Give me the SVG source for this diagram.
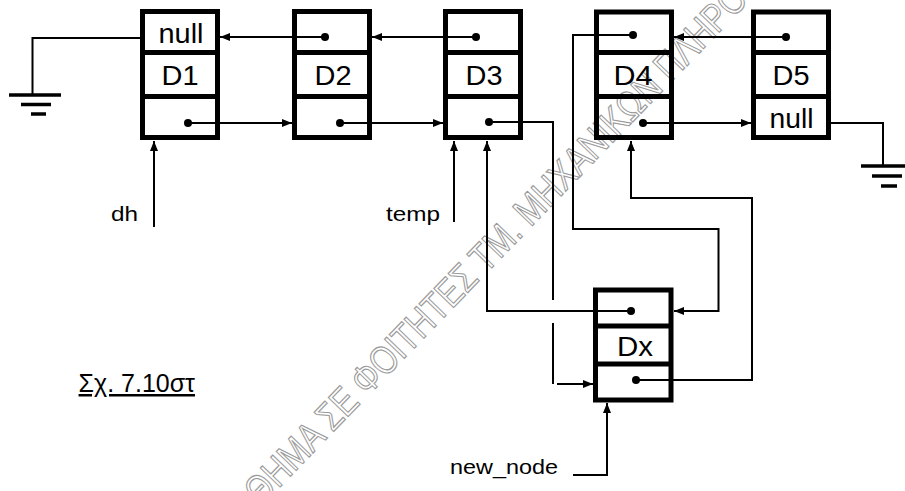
<svg xmlns="http://www.w3.org/2000/svg" width="905" height="491" viewBox="0 0 905 491">
<style>
.box{fill:none;stroke:#000;stroke-width:5}
.dv{stroke:#000;stroke-width:5}
.lbl{font-family:"Liberation Sans",Arial,sans-serif;font-size:27px;text-anchor:middle;fill:#000}
.sm{font-family:"Liberation Sans",Arial,sans-serif;font-size:21px;fill:#000}
.ln{fill:none;stroke:#000;stroke-width:2}
.gnd{stroke:#000;stroke-width:3.5}
.dot{fill:#000}
.wm{font-family:"Liberation Sans",Arial,sans-serif;font-size:40px;fill:none;stroke:#9a9a9a;stroke-width:1.2}
</style>
<defs>
<marker id="ah" viewBox="0 0 10 8" refX="10" refY="4" markerWidth="10" markerHeight="8" orient="auto" markerUnits="userSpaceOnUse"><path d="M0,0 L10,4 L0,8 z" fill="#000"/></marker>
</defs>
<rect width="905" height="491" fill="#fff"/>
<g id="watermark" transform="translate(367,377) rotate(-46)">
<text class="wm" transform="scale(0.8,1)" x="-209" y="14">ΘΗΜΑ ΣΕ ΦΟΙΤΗΤΕΣ ΤΜ. ΜΗΧΑΝΙΚΩΝ ΠΛΗΡΟ</text>
</g>
<g id="connectors">
<path class="ln" d="M142,38 H32.5 V95"/>
<line class="gnd" x1="9" y1="95" x2="61" y2="95"/>
<line class="gnd" x1="21" y1="104.5" x2="51" y2="104.5"/>
<line class="gnd" x1="31" y1="114" x2="46" y2="114"/>
<path class="ln" d="M829,123 H883 V166"/>
<line class="gnd" x1="861" y1="166" x2="905" y2="166"/>
<line class="gnd" x1="872" y1="176" x2="902" y2="176"/>
<line class="gnd" x1="881" y1="186" x2="897" y2="186"/>
<circle class="dot" cx="325" cy="37" r="4"/>
<line class="ln" x1="325" y1="37" x2="220" y2="37" marker-end="url(#ah)"/>
<circle class="dot" cx="476" cy="37" r="4"/>
<line class="ln" x1="476" y1="37" x2="372" y2="37" marker-end="url(#ah)"/>
<circle class="dot" cx="786" cy="37" r="4"/>
<line class="ln" x1="786" y1="37" x2="674" y2="37" marker-end="url(#ah)"/>
<circle class="dot" cx="188" cy="123" r="4"/>
<line class="ln" x1="188" y1="123" x2="292" y2="123" marker-end="url(#ah)"/>
<circle class="dot" cx="340" cy="123" r="4"/>
<line class="ln" x1="340" y1="123" x2="443" y2="123" marker-end="url(#ah)"/>
<circle class="dot" cx="643" cy="123" r="4"/>
<line class="ln" x1="643" y1="123" x2="751" y2="123" marker-end="url(#ah)"/>
<circle class="dot" cx="489" cy="122" r="4"/>
<path class="ln" d="M489,122 H553 V300"/>
<path class="ln" d="M553,323 V384"/>
<line class="ln" x1="557" y1="384" x2="593" y2="384" marker-end="url(#ah)"/>
<circle class="dot" cx="631" cy="311" r="4"/>
<path class="ln" d="M631,311 H487 V141" marker-end="url(#ah)"/>
<circle class="dot" cx="633" cy="35" r="4"/>
<path class="ln" d="M633,35 H573 V229 H718.5 V311 H674" marker-end="url(#ah)"/>
<circle class="dot" cx="636" cy="380" r="4"/>
<path class="ln" d="M636,380 H752 V198 H631 V141" marker-end="url(#ah)"/>
<line class="ln" x1="154" y1="227" x2="154" y2="141" marker-end="url(#ah)"/>
<line class="ln" x1="454" y1="222" x2="454" y2="141" marker-end="url(#ah)"/>
<path class="ln" d="M573,475 H607 V403" marker-end="url(#ah)"/>
</g>
<g id="D1">
<rect class="box" x="142.5" y="11.5" width="75" height="126"/>
<line class="dv" x1="142.5" y1="52.5" x2="217.5" y2="52.5"/>
<line class="dv" x1="142.5" y1="96.5" x2="217.5" y2="96.5"/>
<text class="lbl" x="181" y="43" textLength="45" lengthAdjust="spacingAndGlyphs">null</text>
<text class="lbl" x="180" y="85" textLength="37" lengthAdjust="spacingAndGlyphs">D1</text>
</g>
<g id="D2">
<rect class="box" x="294.5" y="11.5" width="75" height="126"/>
<line class="dv" x1="294.5" y1="52.5" x2="369.5" y2="52.5"/>
<line class="dv" x1="294.5" y1="96.5" x2="369.5" y2="96.5"/>
<text class="lbl" x="333" y="85" textLength="37" lengthAdjust="spacingAndGlyphs">D2</text>
</g>
<g id="D3">
<rect class="box" x="445.5" y="11.5" width="75" height="126"/>
<line class="dv" x1="445.5" y1="52.5" x2="520.5" y2="52.5"/>
<line class="dv" x1="445.5" y1="96.5" x2="520.5" y2="96.5"/>
<text class="lbl" x="484" y="85" textLength="37" lengthAdjust="spacingAndGlyphs">D3</text>
</g>
<g id="D4">
<rect class="box" x="596.5" y="12" width="75" height="125.5"/>
<line class="dv" x1="596.5" y1="52.5" x2="671.5" y2="52.5"/>
<line class="dv" x1="596.5" y1="96.5" x2="671.5" y2="96.5"/>
<text class="lbl" x="633" y="85" textLength="39" lengthAdjust="spacingAndGlyphs">D4</text>
</g>
<g id="D5">
<rect class="box" x="753.5" y="12" width="75" height="125.5"/>
<line class="dv" x1="753.5" y1="52.5" x2="828.5" y2="52.5"/>
<line class="dv" x1="753.5" y1="96.5" x2="828.5" y2="96.5"/>
<text class="lbl" x="791" y="85" textLength="37" lengthAdjust="spacingAndGlyphs">D5</text>
<text class="lbl" x="791.5" y="128" textLength="44" lengthAdjust="spacingAndGlyphs">null</text>
</g>
<g id="Dx">
<rect class="box" x="595.5" y="290" width="75.5" height="110"/>
<line class="dv" x1="595.5" y1="326" x2="671" y2="326"/>
<line class="dv" x1="595.5" y1="364" x2="671" y2="364"/>
<text class="lbl" x="635" y="356" textLength="36" lengthAdjust="spacingAndGlyphs">Dx</text>
</g>
<g id="labels">
<text class="sm" x="111" y="221" textLength="27" lengthAdjust="spacingAndGlyphs">dh</text>
<text class="sm" x="386" y="221" textLength="54" lengthAdjust="spacingAndGlyphs">temp</text>
<text class="sm" x="450" y="474" textLength="108" lengthAdjust="spacingAndGlyphs">new_node</text>
<text class="sm" x="195" y="392" text-anchor="end" style="font-size:25px" text-decoration="underline">Σχ. 7.10στ</text>
</g>
</svg>
